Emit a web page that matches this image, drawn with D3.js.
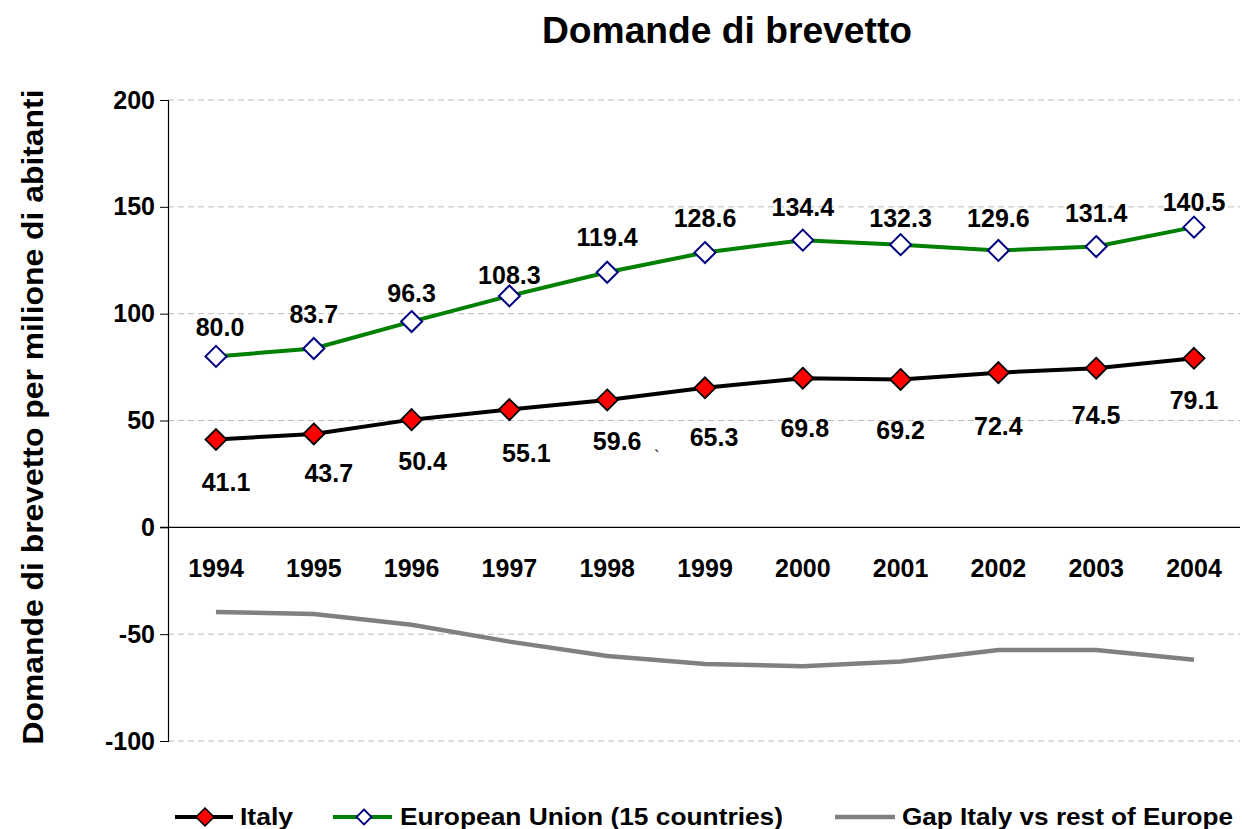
<!DOCTYPE html>
<html><head><meta charset="utf-8">
<script src="https://cdn.jsdelivr.net/npm/d3@7"></script>
<style>body{margin:0;background:#fff}svg{display:block;font-family:"Liberation Sans",Arial,sans-serif;font-weight:bold}</style>
</head><body><svg id="c" width="1242" height="829"></svg>
<script>
const years = ["1994","1995","1996","1997","1998","1999","2000","2001","2002","2003","2004"];
const italy = [41.1,43.7,50.4,55.1,59.6,65.3,69.8,69.2,72.4,74.5,79.1];
const eu = [80.0,83.7,96.3,108.3,119.4,128.6,134.4,132.3,129.6,131.4,140.5];
const gap = [-39.6,-40.6,-45.6,-53.5,-60.2,-64,-65,-62.8,-57.4,-57.4,-62];
const yTicks = [-100,-50,0,50,100,150,200];
const seriesNames = ["Italy","European Union (15 countries)","Gap Italy vs rest of Europe"];
// label layout offsets (pixels)
const italyLabelDx = [10,15,11,17,10,9,2,0,0,0,0];
const italyLabelDy = [42,39,41,43,41,49,50,51,53,47,42];
const euLabelDy = [-29,-34,-29,-21,-35,-35,-33,-27,-32,-34,-25];

const FS = 25;
const svg = d3.select("#c");
const x = d3.scalePoint().domain(years).range([216,1194]);
const y = d3.scaleLinear().domain([-100,200]).range([741,100]);
const left = 168, right = 1240;

// gridlines
svg.append("g").selectAll("line").data(yTicks.filter(d=>d!==0)).join("line")
  .attr("x1",left).attr("x2",right).attr("y1",d=>y(d)).attr("y2",d=>y(d))
  .attr("stroke","#bdbdbd").attr("stroke-width",1).attr("stroke-dasharray","6,4");

// y axis
const ya = svg.append("g").attr("transform",`translate(${left},0)`)
  .call(d3.axisLeft(y).tickValues(yTicks).tickSize(8).tickPadding(5).tickFormat(d=>String(d)));
ya.select(".domain").attr("stroke","#000").attr("stroke-width",1.2);
ya.selectAll(".tick line").attr("stroke","#000");
ya.selectAll("text").attr("font-size",FS).attr("font-weight","bold").attr("fill","#000")
  .attr("font-family","Liberation Sans, Arial, sans-serif");

// zero line
svg.append("line").attr("x1",left-8).attr("x2",right).attr("y1",y(0)).attr("y2",y(0))
  .attr("stroke","#000").attr("stroke-width",1.2);

// year labels
svg.append("g").selectAll("text").data(years).join("text")
  .attr("x",d=>x(d)).attr("y",y(0)+50).attr("text-anchor","middle")
  .attr("font-size",FS).text(d=>d);

const line = d3.line().x((d,i)=>x(years[i])).y(d=>y(d));

// gap line
svg.append("path").datum(gap).attr("d",line).attr("fill","none")
  .attr("stroke","#808080").attr("stroke-width",4.5);

// EU
svg.append("path").datum(eu).attr("d",line).attr("fill","none")
  .attr("stroke","#008000").attr("stroke-width",4);
// Italy
svg.append("path").datum(italy).attr("d",line).attr("fill","none")
  .attr("stroke","#000").attr("stroke-width",4);

const diamond = r => `M0,${-r}L${r},0L0,${r}L${-r},0Z`;
svg.append("g").selectAll("path").data(eu).join("path")
  .attr("transform",(d,i)=>`translate(${x(years[i])},${y(d)})`)
  .attr("d",diamond(10.5)).attr("fill","#fff").attr("stroke","#000080").attr("stroke-width",2);
svg.append("g").selectAll("path").data(italy).join("path")
  .attr("transform",(d,i)=>`translate(${x(years[i])},${y(d)})`)
  .attr("d",diamond(10.5)).attr("fill","#ff0000").attr("stroke","#000").attr("stroke-width",1.8);

// data labels
svg.append("g").selectAll("text").data(eu).join("text")
  .attr("x",(d,i)=>x(years[i])+ (i===0?4:0)).attr("y",(d,i)=>y(d)+euLabelDy[i]+9)
  .attr("text-anchor","middle").attr("font-size",FS).text(d=>d.toFixed(1));
svg.append("g").selectAll("text").data(italy).join("text")
  .attr("x",(d,i)=>x(years[i])+italyLabelDx[i]).attr("y",(d,i)=>y(d)+italyLabelDy[i]+9)
  .attr("text-anchor","middle").attr("font-size",FS).text(d=>d.toFixed(1));
// stray tick mark in source
svg.append("text").attr("x",654).attr("y",462).attr("font-size",16).attr("font-weight","normal").text("`");

// title
svg.append("text").attr("x",727).attr("y",43).attr("text-anchor","middle")
  .attr("font-size",37).attr("textLength",370).attr("lengthAdjust","spacingAndGlyphs")
  .text("Domande di brevetto");
// y title
svg.append("text").attr("transform","translate(43,417) rotate(-90)").attr("text-anchor","middle")
  .attr("font-size",30).attr("textLength",655).attr("lengthAdjust","spacingAndGlyphs")
  .text("Domande di brevetto per milione di abitanti");

// legend
const lg = svg.append("g");
const ly = 817, lb = 825;
lg.append("line").attr("x1",175).attr("x2",233).attr("y1",ly).attr("y2",ly).attr("stroke","#000").attr("stroke-width",4);
lg.append("path").attr("transform",`translate(205,${ly})`).attr("d",diamond(9)).attr("fill","#ff0000").attr("stroke","#000").attr("stroke-width",1.5);
lg.append("text").attr("x",240).attr("y",lb).attr("font-size",24).attr("textLength",53).attr("lengthAdjust","spacingAndGlyphs").text(seriesNames[0]);
lg.append("line").attr("x1",333).attr("x2",392).attr("y1",ly).attr("y2",ly).attr("stroke","#008000").attr("stroke-width",4);
lg.append("path").attr("transform",`translate(364,${ly})`).attr("d",diamond(7.5)).attr("fill","#fff").attr("stroke","#000080").attr("stroke-width",1.8);
lg.append("text").attr("x",400).attr("y",lb).attr("font-size",24).attr("textLength",383).attr("lengthAdjust","spacingAndGlyphs").text(seriesNames[1]);
lg.append("line").attr("x1",835).attr("x2",895).attr("y1",ly).attr("y2",ly).attr("stroke","#808080").attr("stroke-width",4.5);
lg.append("text").attr("x",902).attr("y",lb).attr("font-size",24).attr("textLength",331).attr("lengthAdjust","spacingAndGlyphs").text(seriesNames[2]);
</script></body></html>
